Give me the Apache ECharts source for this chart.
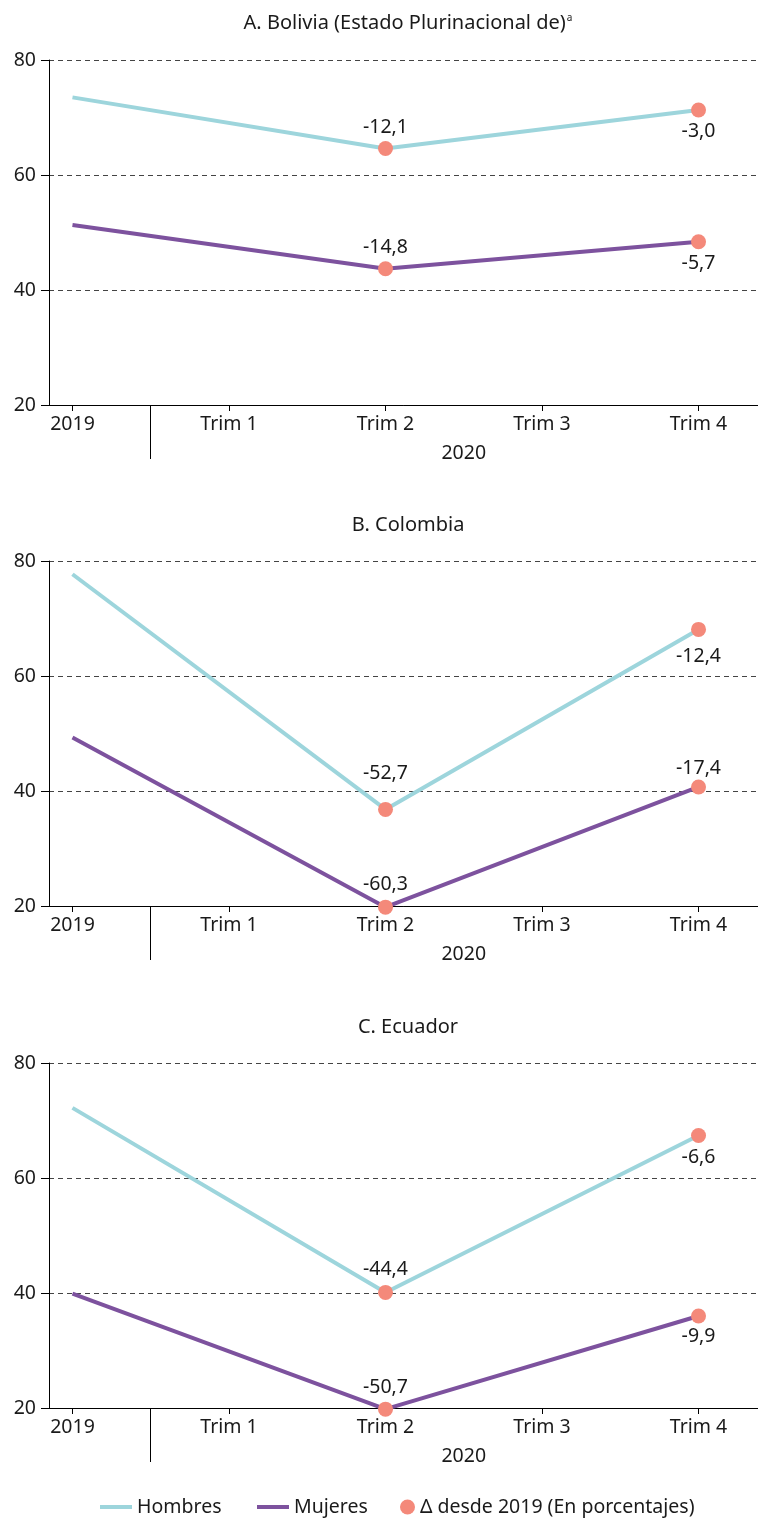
<!DOCTYPE html>
<html>
<head>
<meta charset="utf-8">
<script src="https://cdn.jsdelivr.net/npm/echarts@6/dist/echarts.min.js"></script>
<style>
html,body{margin:0;padding:0;background:#fff;}
#c{width:758px;height:1519px;}
</style>
</head>
<body>
<div id="c"></div>
<script>
// ---- data ----
const categories = ['2019', 'Trim 1', 'Trim 2', 'Trim 3', 'Trim 4'];
const yearGroupLabel = '2020';
const panelTitles = ['A. Bolivia (Estado Plurinacional de)', 'B. Colombia', 'C. Ecuador'];
const yTicks = [20, 40, 60, 80];
const seriesNames = ['Hombres', 'Mujeres', 'Δ desde 2019 (En porcentajes)'];

const hombresBolivia  = [73.5, null, 64.6, null, 71.3];
const mujeresBolivia  = [51.3, null, 43.7, null, 48.4];
const deltaHombresBolivia = [null, null, -12.1, null, -3.0];
const deltaMujeresBolivia = [null, null, -14.8, null, -5.7];

const hombresColombia = [77.7, null, 36.8, null, 68.1];
const mujeresColombia = [49.3, null, 19.8, null, 40.7];
const deltaHombresColombia = [null, null, -52.7, null, -12.4];
const deltaMujeresColombia = [null, null, -60.3, null, -17.4];

const hombresEcuador  = [72.2, null, 40.1, null, 67.4];
const mujeresEcuador  = [39.9, null, 19.8, null, 36.0];
const deltaHombresEcuador = [null, null, -44.4, null, -6.6];
const deltaMujeresEcuador = [null, null, -50.7, null, -9.9];

// ---- styling / layout (not data) ----
const FONT = '"Noto Sans", sans-serif';
const TXT = '#1a1a1a';
const FS = 19.5;
const C_H = '#9dd5dc';
const C_M = '#7d529e';
const C_D = '#f4897a';
const gridTops = [60, 561, 1063];
const gridHeight = 345;
const titleTops = [8, 510, 1012];
// label placement per panel: [hombres Trim2, hombres Trim4, mujeres Trim2, mujeres Trim4]
const labelPlacement = [
  [['top', 4], ['bottom', 4], ['top', 4], ['bottom', 4]],
  [['top', 18], ['bottom', 10], ['top', 5], ['top', 1]],
  [['top', 5], ['bottom', 4], ['top', 4], ['bottom', 3]]
];
const xMin = -0.15, xMax = 4.38;

const panels = [
  {h: hombresBolivia, m: mujeresBolivia, dh: deltaHombresBolivia, dm: deltaMujeresBolivia},
  {h: hombresColombia, m: mujeresColombia, dh: deltaHombresColombia, dm: deltaMujeresColombia},
  {h: hombresEcuador, m: mujeresEcuador, dh: deltaHombresEcuador, dm: deltaMujeresEcuador}
];

const fmt = v => v.toFixed(1).replace('.', ',');
const idx = categories.map((c, i) => i);

const grids = [], xAxes = [], yAxes = [], series = [], titles = [];

panels.forEach((p, k) => {
  grids.push({left: 49, right: 0, top: gridTops[k], height: gridHeight});
  titles.push({
    text: k === 0 ? panelTitles[k] + '{sup|a}' : panelTitles[k],
    left: 403, top: titleTops[k], textAlign: 'center',
    textStyle: {
      fontFamily: FONT, fontSize: 20, fontWeight: 'normal', color: TXT,
      rich: {sup: {fontFamily: FONT, fontSize: 10, color: TXT, verticalAlign: 'top', lineHeight: 20, padding: [0,0,9,1]}}
    }
  });
  xAxes.push({
    gridIndex: k, type: 'value', min: xMin, max: xMax, position: 'bottom',
    axisLine: {show: true, onZero: false, lineStyle: {color: '#000', width: 1}},
    axisTick: {show: true, customValues: idx, length: 6, lineStyle: {color: '#000'}},
    axisLabel: {show: true, customValues: idx, margin: 9, fontFamily: FONT, fontSize: FS, color: TXT,
      formatter: v => categories[Math.round(v)]},
    splitLine: {show: false}
  });
  xAxes.push({
    gridIndex: k, type: 'value', min: xMin, max: xMax, position: 'bottom',
    axisLine: {show: false, onZero: false},
    axisTick: {show: true, customValues: [0.5], length: 54, lineStyle: {color: '#000'}},
    axisLabel: {show: true, customValues: [2.5], margin: 38, fontFamily: FONT, fontSize: FS, color: TXT,
      formatter: () => yearGroupLabel},
    splitLine: {show: false}
  });
  yAxes.push({
    gridIndex: k, type: 'value', min: yTicks[0], max: yTicks[yTicks.length - 1], interval: 20,
    axisLine: {show: true, onZero: false, lineStyle: {color: '#000', width: 1}},
    axisTick: {show: true, length: 8, lineStyle: {color: '#000'}},
    axisLabel: {margin: 13, fontFamily: FONT, fontSize: FS, color: TXT},
    splitLine: {show: true, lineStyle: {color: '#444', type: [5, 4], width: 1}}
  });
  const xi = k * 2;
  const pts = arr => arr.map((v, i) => [i, v]);
  series.push({
    name: seriesNames[0], type: 'line', xAxisIndex: xi, yAxisIndex: k,
    data: pts(p.h), connectNulls: true, showSymbol: false, symbol: 'none', clip: false,
    lineStyle: {color: C_H, width: 4}, itemStyle: {color: C_H}, z: 3
  });
  series.push({
    name: seriesNames[1], type: 'line', xAxisIndex: xi, yAxisIndex: k,
    data: pts(p.m), connectNulls: true, showSymbol: false, symbol: 'none', clip: false,
    lineStyle: {color: C_M, width: 4}, itemStyle: {color: C_M}, z: 3
  });
  const dData = [];
  const place = labelPlacement[k];
  let n = 0;
  [[p.dh, p.h], [p.dm, p.m]].forEach(([d, vals]) => {
    d.forEach((v, i) => {
      if (v === null) return;
      const pl = place[n++];
      dData.push({
        value: [i, vals[i], v],
        label: {position: pl[0], distance: pl[1]}
      });
    });
  });
  series.push({
    name: seriesNames[2], type: 'scatter', xAxisIndex: xi, yAxisIndex: k,
    data: dData, symbol: 'circle', symbolSize: 15, clip: false,
    itemStyle: {color: C_D, opacity: 1}, z: 5,
    label: {show: true, distance: 4, fontFamily: FONT, fontSize: FS, color: TXT,
      formatter: prm => fmt(prm.value[2])}
  });
});

const legendBase = {
  top: 1492, itemWidth: 32, itemHeight: 15, itemGap: 0,
  textStyle: {fontFamily: FONT, fontSize: FS, color: TXT},
  selectedMode: false
};
const legends = [
  Object.assign({}, legendBase, {left: 95, data: [{name: seriesNames[0], icon: 'path://M0,0h32v4h-32z', itemStyle: {color: C_H}}]}),
  Object.assign({}, legendBase, {left: 252, data: [{name: seriesNames[1], icon: 'path://M0,0h32v4h-32z', itemStyle: {color: C_M}}]}),
  Object.assign({}, legendBase, {left: 395, itemWidth: 15, data: [{name: seriesNames[2], icon: 'circle', itemStyle: {color: C_D}}]})
];

const chart = echarts.init(document.getElementById('c'), null, {renderer: 'canvas'});
chart.setOption({
  animation: false,
  backgroundColor: '#fff',
  title: titles,
  grid: grids,
  xAxis: xAxes,
  yAxis: yAxes,
  series: series,
  legend: legends
});
</script>
</body>
</html>
